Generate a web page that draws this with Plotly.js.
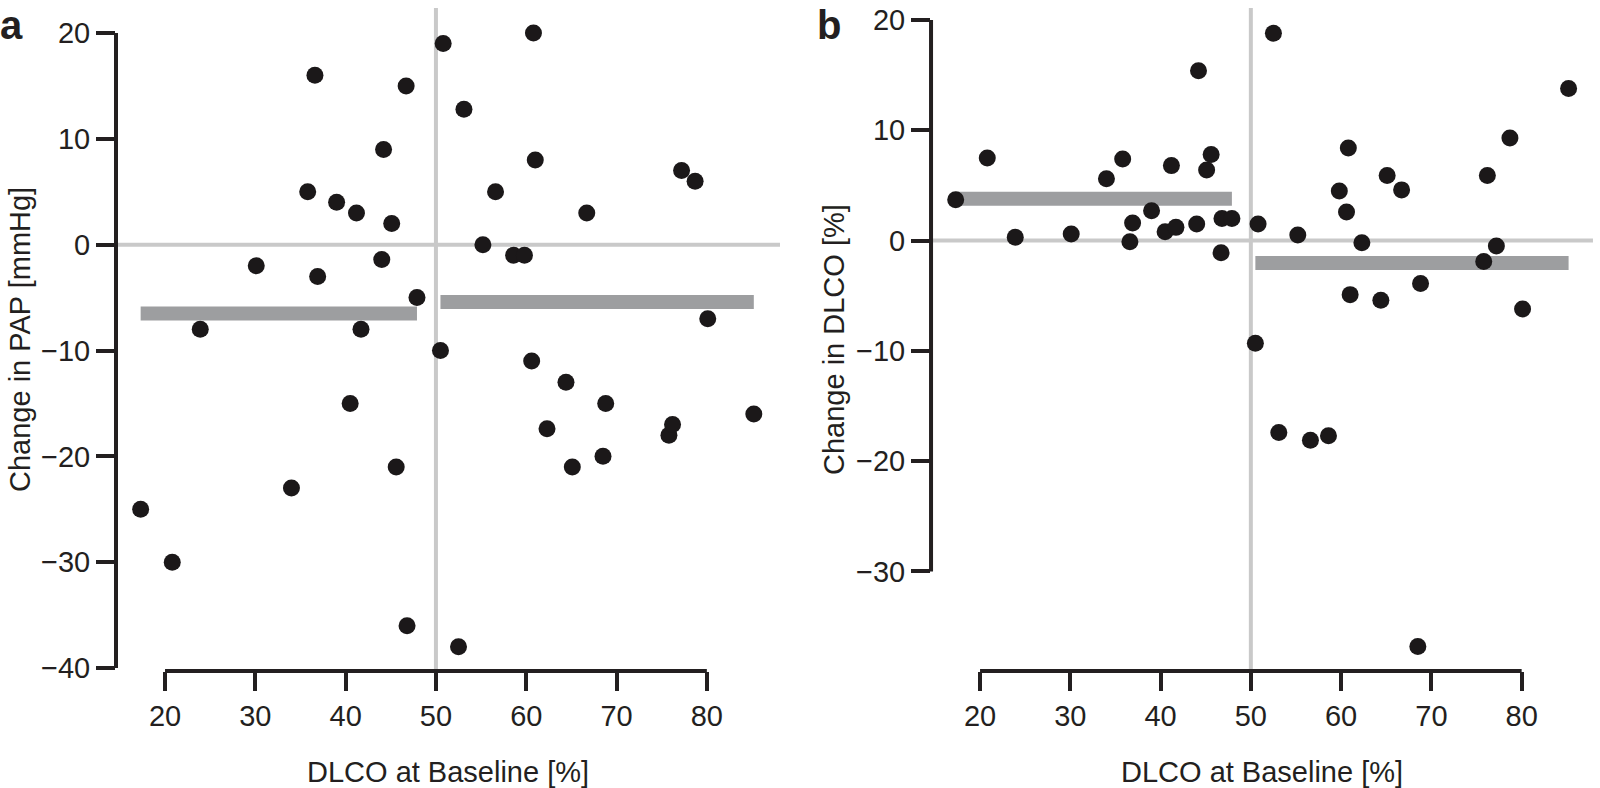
<!DOCTYPE html>
<html>
<head>
<meta charset="utf-8">
<script src="https://cdn.plot.ly/plotly-3.0.1.min.js"></script>
<style>
  html, body { margin: 0; padding: 0; background: #fff; }
  #chart { width: 1600px; height: 788px; }
</style>
</head>
<body>
<div id="chart"></div>
<script>
// DLCO at baseline [%] for each patient (shared by both panels)
const dlcoBaseline = [17.3, 20.8, 23.9, 30.1, 34.0, 35.8, 36.6, 36.9, 39.0, 40.5,
                      41.2, 41.7, 44.0, 44.2, 45.1, 45.6, 46.7, 46.8, 47.9,
                      50.5, 50.8, 52.5, 53.1, 55.2, 56.6, 58.6, 59.8, 60.6, 60.8,
                      61.0, 62.3, 64.4, 65.1, 66.7, 68.5, 68.8, 75.8, 76.2, 77.2,
                      78.7, 80.1, 85.2];
// panel a: change in PAP [mmHg]
const papChange = [-25, -30, -8, -2, -23, 5, 16, -3, 4, -15,
                   3, -8, -1.4, 9, 2, -21, 15, -36, -5,
                   -10, 19, -38, 12.8, 0, 5, -1, -1, -11, 20,
                   8, -17.4, -13, -21, 3, -20, -15, -18, -17, 7,
                   6, -7, -16];
// panel b: change in DLCO [%]
const dlcoChange = [3.7, 7.5, 0.3, 0.6, 5.6, 7.4, -0.1, 1.6, 2.7, 0.8,
                    6.8, 1.2, 1.5, 15.4, 6.4, 7.8, -1.1, 2.0, 2.0,
                    -9.3, 1.5, 18.8, -17.4, 0.5, -18.1, -17.7, 4.5, 2.6, 8.4,
                    -4.9, -0.2, -5.4, 5.9, 4.6, -36.8, -3.9, -1.9, 5.9, -0.5,
                    9.3, -6.2, 13.8];

const cutoff = 50;
const xTicks = [20, 30, 40, 50, 60, 70, 80];
const yTicksA = [-40, -30, -20, -10, 0, 10, 20];
const yTicksB = [-30, -20, -10, 0, 10, 20];

const ink = '#231f20';
const dotColor = '#1b1819';
const barColor = '#9d9ea0';
const refColor = '#c9c9c9';
const fontFamily = 'Liberation Sans, Arial, Helvetica, sans-serif';

// mean line for the patients below / above the cutoff
function groupMeanLine(xs, ys, below, xa, ya) {
  const gx = [], gy = [];
  xs.forEach((x, i) => {
    if ((x < cutoff) === below) { gx.push(x); gy.push(ys[i]); }
  });
  const mean = gy.reduce((s, v) => s + v, 0) / gy.length;
  return {
    x: [Math.min(...gx), Math.max(...gx)],
    y: [mean, mean],
    xaxis: xa, yaxis: ya,
    mode: 'lines', type: 'scatter',
    line: { color: barColor, width: 14 },
    hoverinfo: 'skip', showlegend: false
  };
}

function dots(ys, xa, ya) {
  return {
    x: dlcoBaseline, y: ys, xaxis: xa, yaxis: ya,
    mode: 'markers', type: 'scatter',
    marker: { color: dotColor, size: 17 },
    showlegend: false
  };
}

const traces = [
  groupMeanLine(dlcoBaseline, papChange, true, 'x', 'y'),
  groupMeanLine(dlcoBaseline, papChange, false, 'x', 'y'),
  dots(papChange, 'x', 'y'),
  groupMeanLine(dlcoBaseline, dlcoChange, true, 'x2', 'y2'),
  groupMeanLine(dlcoBaseline, dlcoChange, false, 'x2', 'y2'),
  dots(dlcoChange, 'x2', 'y2')
];

function axisStyle(extra) {
  return Object.assign({
    ticks: 'outside', ticklen: 19, tickwidth: 4, tickcolor: ink,
    tickmode: 'array',
    showgrid: false, zeroline: false, showline: false,
    tickfont: { family: fontFamily, size: 29, color: ink },
    fixedrange: true
  }, extra);
}

function spines(xa, ya, yTicks) {
  const xr = xa === 'x' ? 'x domain' : 'x2 domain';
  const yr = ya === 'y' ? 'y domain' : 'y2 domain';
  const line = { color: ink, width: 4 };
  return [
    // reference lines
    { type: 'line', layer: 'below', xref: xr, yref: ya, x0: 0, x1: 1, y0: 0, y1: 0,
      line: { color: refColor, width: 4 } },
    { type: 'line', layer: 'below', xref: xa, yref: yr, x0: cutoff, x1: cutoff, y0: 0, y1: 1,
      line: { color: refColor, width: 4 } },
    // detached axis spines
    { type: 'line', xref: xr, yref: ya, x0: 0, x1: 0,
      y0: Math.min(...yTicks), y1: Math.max(...yTicks), line: line },
    { type: 'line', xref: xa, yref: yr, y0: 0, y1: 0,
      x0: Math.min(...xTicks), x1: Math.max(...xTicks), line: line }
  ];
}

const titleFont = { family: fontFamily, size: 29, color: ink };
const letterFont = { family: fontFamily, size: 40, color: ink, weight: 'bold' };

const layout = {
  width: 1600, height: 788,
  margin: { l: 0, r: 0, t: 0, b: 0 },
  paper_bgcolor: '#fff', plot_bgcolor: '#fff',
  showlegend: false, hovermode: false,
  xaxis: axisStyle({ domain: [0.0725, 0.4875], range: [14.57, 88.1], tickvals: xTicks, anchor: 'y' }),
  yaxis: axisStyle({ domain: [0.1485, 0.9898], range: [-40.28, 22.36], tickvals: yTicksA, anchor: 'x' }),
  xaxis2: axisStyle({ domain: [0.5819, 0.9956], range: [14.57, 87.9], tickvals: xTicks, anchor: 'y2' }),
  yaxis2: axisStyle({ domain: [0.1485, 0.9898], range: [-39.03, 21.09], tickvals: yTicksB, anchor: 'x2' }),
  shapes: spines('x', 'y', yTicksA).concat(spines('x2', 'y2', yTicksB)),
  annotations: [
    { text: 'DLCO at Baseline [%]', xref: 'x domain', yref: 'paper', x: 0.5, y: 1 - 771.7 / 788,
      xanchor: 'center', yanchor: 'middle', showarrow: false, font: titleFont },
    { text: 'DLCO at Baseline [%]', xref: 'x2 domain', yref: 'paper', x: 0.5, y: 1 - 771.7 / 788,
      xanchor: 'center', yanchor: 'middle', showarrow: false, font: titleFont },
    { text: 'Change in PAP [mmHg]', xref: 'paper', yref: 'y domain', x: 19.5 / 1600, y: 0.5,
      textangle: -90, xanchor: 'center', yanchor: 'middle', showarrow: false, font: titleFont },
    { text: 'Change in DLCO [%]', xref: 'paper', yref: 'y2 domain', x: 833.5 / 1600, y: 0.5,
      textangle: -90, xanchor: 'center', yanchor: 'middle', showarrow: false, font: titleFont },
    { text: '<b>a</b>', xref: 'paper', yref: 'paper', x: 11.5 / 1600, y: 1 - 25 / 788,
      xanchor: 'center', yanchor: 'middle', showarrow: false, font: letterFont },
    { text: '<b>b</b>', xref: 'paper', yref: 'paper', x: 828.5 / 1600, y: 1 - 25 / 788,
      xanchor: 'center', yanchor: 'middle', showarrow: false, font: letterFont }
  ]
};

Plotly.newPlot('chart', traces, layout, { displayModeBar: false, staticPlot: true });
</script>
</body>
</html>
